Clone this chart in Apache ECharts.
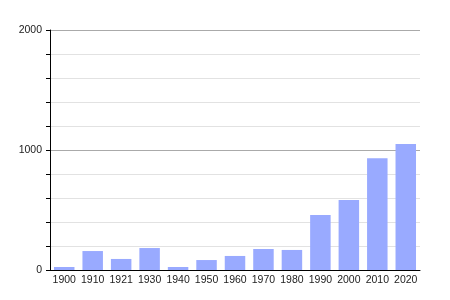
<!DOCTYPE html>
<html>
<head>
<meta charset="utf-8">
<script src="https://cdn.jsdelivr.net/npm/echarts@6/dist/echarts.min.js"></script>
<style>
  html, body { margin: 0; padding: 0; background: #fff; }
  #chart { width: 450px; height: 300px; }
</style>
</head>
<body>
<div id="chart"></div>
<script>
// population by census year
const years = ['1900', '1910', '1921', '1930', '1940', '1950', '1960', '1970', '1980', '1990', '2000', '2010', '2020'];
const population = [25, 158, 92, 183, 25, 83, 117, 175, 167, 458, 583, 931, 1050];

const chart = echarts.init(document.getElementById('chart'));

chart.setOption({
  animation: false,
  backgroundColor: '#fff',
  grid: { left: 50, right: 30, top: 30, bottom: 30, containLabel: false },
  xAxis: {
    type: 'category',
    data: years,
    axisLine: { lineStyle: { color: '#000', width: 1 } },
    axisTick: { show: false },
    axisLabel: { interval: 0, hideOverlap: false, color: '#222', fontSize: 10.5, fontFamily: 'Liberation Sans', margin: 5 }
  },
  yAxis: {
    type: 'value',
    min: 0,
    max: 2000,
    interval: 1000,
    axisLine: { show: true, lineStyle: { color: '#000', width: 1 } },
    axisTick: { show: true, length: 4, lineStyle: { color: '#000' } },
    minorTick: { show: true, splitNumber: 5, length: 4, lineStyle: { color: '#000' } },
    axisLabel: { color: '#222', fontSize: 10.5, fontFamily: 'Liberation Sans', margin: 8, formatter: v => String(v) },
    splitLine: { show: true, lineStyle: { color: '#aaa', width: 1 } },
    minorSplitLine: { show: true, lineStyle: { color: '#e2e2e2', width: 1 } }
  },
  series: [{
    type: 'bar',
    data: population,
    barCategoryGap: '28%',
    itemStyle: { color: '#99aaff' }
  }]
});
</script>
</body>
</html>
